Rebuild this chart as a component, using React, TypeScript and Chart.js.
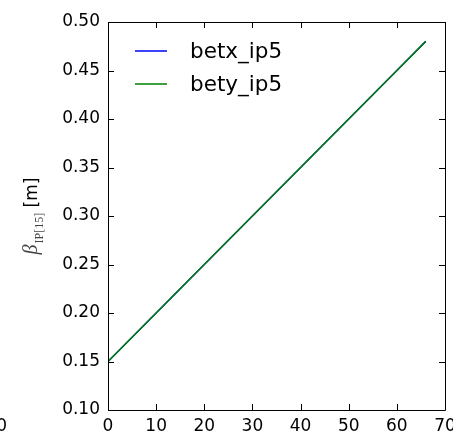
import React, { useEffect, useRef } from "react";
import { Chart, registerables } from "chart.js";

Chart.register(...registerables);

// Data
const sValues = [0, 10, 20, 30, 40, 50, 60, 66];
const betxIp5 = [0.15, 0.2, 0.25, 0.3, 0.35, 0.4, 0.45, 0.48];
const betyIp5 = [0.15, 0.2, 0.25, 0.3, 0.35, 0.4, 0.45, 0.48];
const seriesLabels = ["betx_ip5", "bety_ip5"];
const seriesColors = ["#0000ff", "#008000"];
const xTicks = [0, 10, 20, 30, 40, 50, 60, 70];
const yTicks = [0.1, 0.15, 0.2, 0.25, 0.3, 0.35, 0.4, 0.45, 0.5];

const W = 453;
const H = 435;
const SANS = "'DejaVu Sans', sans-serif";

const framePlugin = {
  id: "frameTicks",
  afterDatasetsDraw(chart: any) {
    const { ctx, chartArea } = chart;
    const { left, right, top, bottom } = chartArea;
    const xs = chart.scales.x;
    const ys = chart.scales.y;
    const tl = 6;
    ctx.save();
    ctx.strokeStyle = "#000";
    ctx.lineWidth = 1;
    ctx.beginPath();
    ctx.rect(Math.round(left) + 0.5, Math.round(top) + 0.5, Math.round(right - left), Math.round(bottom - top));
    ctx.stroke();
    ctx.beginPath();
    xTicks.forEach((v) => {
      const px = Math.round(xs.getPixelForValue(v)) + 0.5;
      ctx.moveTo(px, bottom);
      ctx.lineTo(px, bottom - tl);
      ctx.moveTo(px, top);
      ctx.lineTo(px, top + tl);
    });
    yTicks.forEach((v) => {
      const py = Math.round(ys.getPixelForValue(v)) + 0.5;
      ctx.moveTo(left, py);
      ctx.lineTo(left + tl, py);
      ctx.moveTo(right, py);
      ctx.lineTo(right - tl, py);
    });
    ctx.stroke();

    // legend (frameless, inside the axes)
    ctx.font = `21.5px ${SANS}`;
    ctx.textBaseline = "alphabetic";
    ctx.textAlign = "left";
    const ly = [51, 84];
    seriesLabels.forEach((lab, i) => {
      ctx.strokeStyle = seriesColors[i];
      ctx.lineWidth = 1.5;
      ctx.beginPath();
      ctx.moveTo(135, ly[i]);
      ctx.lineTo(167, ly[i]);
      ctx.stroke();
      ctx.fillStyle = "#000";
      ctx.fillText(lab, 190, ly[i] + 7);
    });

    // y axis title: beta_{IP[15]} [m]
    const serif = "'Liberation Serif', serif";
    const betaFont = `italic 20px ${serif}`;
    const subFont = `12px ${serif}`;
    const unitFont = `17px ${SANS}`;
    ctx.font = betaFont;
    const wB = ctx.measureText("\u03b2").width;
    ctx.font = subFont;
    const wS = ctx.measureText("IP[15]").width;
    ctx.font = unitFont;
    const wU = ctx.measureText(" [m]").width;
    const total = wB + 1 + wS + wU;
    const cy = (top + bottom) / 2;
    ctx.translate(37, cy);
    ctx.rotate(-Math.PI / 2);
    ctx.fillStyle = "#000";
    let x0 = -total / 2;
    ctx.font = betaFont;
    ctx.fillStyle = "#444";
    ctx.fillText("\u03b2", x0, 0);
    x0 += wB + 1;
    ctx.font = subFont;
    ctx.fillText("IP[15]", x0, 6);
    x0 += wS;
    ctx.font = unitFont;
    ctx.fillStyle = "#000";
    ctx.fillText(" [m]", x0, 0);
    ctx.restore();

    // clipped tick label of the neighbouring panel at the far left
    ctx.save();
    ctx.font = `17px ${SANS}`;
    ctx.fillStyle = "#000";
    ctx.textAlign = "right";
    ctx.textBaseline = "alphabetic";
    ctx.fillText("70", 7, 431);
    ctx.restore();
  },
};

export default function App() {
  const ref = useRef<HTMLCanvasElement | null>(null);
  useEffect(() => {
    if (!ref.current) return;
    const chart = new Chart(ref.current, {
      type: "line",
      data: {
        datasets: [
          {
            label: seriesLabels[0],
            data: sValues.map((s, i) => ({ x: s, y: betxIp5[i] })),
            borderColor: seriesColors[0],
            backgroundColor: seriesColors[0],
            borderWidth: 1.5,
            pointRadius: 0,
            tension: 0,
            order: 1,
          },
          {
            label: seriesLabels[1],
            data: sValues.map((s, i) => ({ x: s, y: betyIp5[i] })),
            borderColor: seriesColors[1],
            backgroundColor: seriesColors[1],
            borderWidth: 1.5,
            pointRadius: 0,
            tension: 0,
            order: 0,
          },
        ],
      },
      options: {
        responsive: false,
        animation: false,
        layout: { padding: { left: 0, top: 22, right: 8, bottom: 0 } },
        plugins: { legend: { display: false }, tooltip: { enabled: false } },
        scales: {
          x: {
            type: "linear",
            min: 0,
            max: 70,
            afterBuildTicks: (s: any) => {
              s.ticks = xTicks.map((v) => ({ value: v }));
            },
            afterFit: (s: any) => {
              s.height = 25;
              s.paddingLeft = 0;
              s.paddingRight = 0;
            },
            grid: { display: false, drawTicks: false },
            border: { display: false },
            ticks: {
              color: "#000",
              font: { family: SANS, size: 17 },
              padding: 6,
              maxRotation: 0,
              autoSkip: false,
              callback: (v: any) => String(v),
            },
          },
          y: {
            type: "linear",
            min: 0.1,
            max: 0.5,
            afterBuildTicks: (s: any) => {
              s.ticks = yTicks.map((v) => ({ value: v }));
            },
            afterFit: (s: any) => {
              s.width = 108;
              s.paddingTop = 0;
              s.paddingBottom = 0;
            },
            grid: { display: false, drawTicks: false },
            border: { display: false },
            ticks: {
              color: "#000",
              font: { family: SANS, size: 17 },
              padding: 8,
              autoSkip: false,
              callback: (v: any) => Number(v).toFixed(2),
            },
          },
        },
      },
      plugins: [framePlugin],
    });
    return () => chart.destroy();
  }, []);
  return (
    <div style={{ position: "absolute", left: 0, top: 0, width: W, height: H, background: "#fff" }}>
      <canvas ref={ref} width={W} height={H} />
    </div>
  );
}
